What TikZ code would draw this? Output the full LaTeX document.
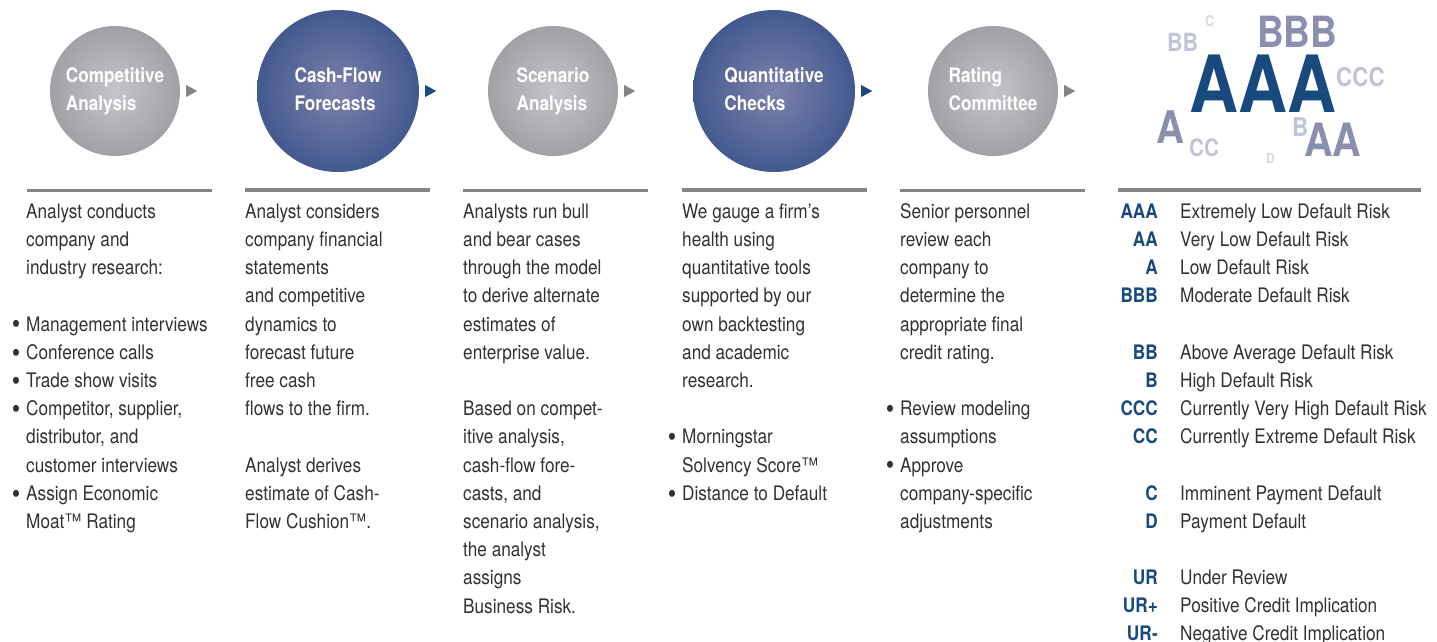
\documentclass[tikz,border=0pt]{standalone}
\usepackage{fontspec}
\setmainfont{TeX Gyre Heros}[FakeStretch=0.86]
\usetikzlibrary{calc}
\definecolor{txt}{RGB}{50,50,50}
\definecolor{rulecol}{RGB}{133,133,135}
\definecolor{mblue}{RGB}{24,74,126}
\definecolor{cmed}{RGB}{138,143,176}
\definecolor{clight}{RGB}{192,196,216}
\definecolor{cpale}{RGB}{214,217,229}
\pgfdeclareradialshading{grayballsh}{\pgfpoint{0bp}{0bp}}{rgb(0bp)=(0.77,0.77,0.79); rgb(25bp)=(0.63,0.63,0.65); rgb(50bp)=(0.47,0.47,0.49)}
\pgfdeclareradialshading{blueballsh}{\pgfpoint{0bp}{0bp}}{rgb(0bp)=(0.49,0.51,0.67); rgb(25bp)=(0.26,0.35,0.56); rgb(50bp)=(0.10,0.29,0.51)}
\newcommand\bul{\llap{\raisebox{-2.8pt}{\scalebox{1.4}{\textbullet}}\hspace{6pt}}}
\tikzset{
  ball/.style={circle, inner sep=0pt, draw=none},
  grayball/.style={ball, shading=grayballsh, minimum size=130pt},
  blueball/.style={ball, shading=blueballsh, minimum size=162pt},
  balltext/.style={align=left, text=white, inner sep=0pt, font=\bfseries\fontsize{20}{28}\selectfont},
  body/.style={align=left, text=txt, inner sep=0pt, anchor=north west, font=\fontsize{20}{28.2}\selectfont},
  code/.style={anchor=base east, inner sep=0pt, text=mblue, font=\bfseries\fontsize{20}{24}\selectfont},
  desc/.style={anchor=base west, inner sep=0pt, text=txt, font=\fontsize{20}{24}\selectfont},
  cloud/.style={anchor=base west, inner sep=0pt, font=\bfseries},
  thinrule/.style={draw=rulecol, line width=2.5pt},
  thickrule/.style={draw=rulecol, line width=4pt},
}
\begin{document}
\begin{tikzpicture}[x=1pt,y=-1pt]
\useasboundingbox (0,0) rectangle (1437,642);

% circles
\node[grayball] (c1) at (115,91) {};
\node[blueball] (c2) at (338,91) {};
\node[grayball] (c3) at (553,91) {};
\node[blueball] (c4) at (774,91) {};
\node[grayball] (c5) at (993,91) {};

\node[balltext] (t1) at (c1.center) {\strut Competitive\\\strut Analysis};
\node[balltext] (t2) at (c2.center) {\strut Cash-Flow\\\strut Forecasts};
\node[balltext] (t3) at (c3.center) {\strut Scenario\\\strut Analysis};
\node[balltext] (t4) at (c4.center) {\strut Quantitative\\\strut Checks};
\node[balltext] (t5) at (c5.center) {\strut Rating\\\strut Committee};

% arrow triangles
\fill[rulecol] ($(c1.east)+(6,-6)$) -- ++(11,6) -- ++(-11,6) -- cycle;
\fill[mblue]   ($(c2.east)+(6,-6)$) -- ++(11,6) -- ++(-11,6) -- cycle;
\fill[rulecol] ($(c3.east)+(6,-6)$) -- ++(11,6) -- ++(-11,6) -- cycle;
\fill[mblue]   ($(c4.east)+(6,-6)$) -- ++(11,6) -- ++(-11,6) -- cycle;
\fill[rulecol] ($(c5.east)+(6,-6)$) -- ++(11,6) -- ++(-11,6) -- cycle;

% rules
\draw[thinrule] (27,190.5) -- (212,190.5);
\draw[thickrule] (245,189.5) -- (430,189.5);
\draw[thinrule] (463,190.5) -- (648,190.5);
\draw[thickrule] (682,189.5) -- (867,189.5);
\draw[thinrule] (900,190.5) -- (1085,190.5);
\draw[thickrule] (1118,189.5) -- (1421,189.5);

% body columns
\node[body] (b1) at (26,198.3) {\strut Analyst conducts\\\strut company and\\\strut industry research:\\\strut\\
\strut\bul Management interviews\\\strut\bul Conference calls\\\strut\bul Trade show visits\\
\strut\bul Competitor, supplier,\\\strut distributor, and\\\strut customer interviews\\
\strut\bul Assign Economic\\\strut Moat™ Rating};

\node[body] (b2) at (245,198.3) {\strut Analyst considers\\\strut company financial\\\strut statements\\\strut and competitive\\
\strut dynamics to\\\strut forecast future\\\strut free cash\\\strut flows to the firm.\\\strut\\
\strut Analyst derives\\\strut estimate of Cash-\\\strut Flow Cushion™.};

\node[body] (b3) at (463,198.3) {\strut Analysts run bull\\\strut and bear cases\\\strut through the model\\\strut to derive alternate\\
\strut estimates of\\\strut enterprise value.\\\strut\\
\strut Based on compet-\\\strut itive analysis,\\\strut cash-flow fore-\\\strut casts, and\\\strut scenario analysis,\\
\strut the analyst\\\strut assigns\\\strut Business Risk.};

\node[body] (b4) at (682,198.3) {\strut We gauge a firm’s\\\strut health using\\\strut quantitative tools\\\strut supported by our\\
\strut own backtesting\\\strut and academic\\\strut research.\\\strut\\
\strut\bul Morningstar\\\strut Solvency Score™\\\strut\bul Distance to Default};

\node[body] (b5) at (900,198.3) {\strut Senior personnel\\\strut review each\\\strut company to\\\strut determine the\\
\strut appropriate final\\\strut credit rating.\\\strut\\
\strut\bul Review modeling\\\strut assumptions\\\strut\bul Approve\\\strut company-specific\\\strut adjustments};

% rating legend
\foreach \yy/\cc/\dd [count=\i] in {
  218/AAA/Extremely Low Default Risk,
  246.2/AA/Very Low Default Risk,
  274.4/A/Low Default Risk,
  302.6/BBB/Moderate Default Risk,
  359/BB/Above Average Default Risk,
  387.2/B/High Default Risk,
  415.4/CCC/Currently Very High Default Risk,
  443.6/CC/Currently Extreme Default Risk,
  500/C/Imminent Payment Default,
  528.2/D/Payment Default,
  584.6/UR/Under Review,
  612.8/UR+/Positive Credit Implication,
  640.5/UR-/Negative Credit Implication}{
  \node[code] (rc\i) at (1158,\yy) {\cc};
  \node[desc] (rd\i) at (1180,\yy) {\dd};
}

% letter cloud
\node[cloud, text=cpale, font=\bfseries\fontsize{15}{15}\selectfont] (lC) at (1205,27) {C};
\node[cloud, text=clight, font=\bfseries\fontsize{25}{25}\selectfont] (lBB) at (1167,52) {BB};
\node[cloud, text=cmed, font=\bfseries\fontsize{43}{43}\selectfont] (lBBB) at (1257,48) {BBB};
\node[cloud, text=mblue, font=\bfseries\fontsize{79}{79}\selectfont] (lAAA) at (1189,112) {AAA};
\node[cloud, text=clight, font=\bfseries\fontsize{26}{26}\selectfont] (lCCC) at (1336,86) {CCC};
\node[cloud, text=cmed, font=\bfseries\fontsize{45}{45}\selectfont] (lA) at (1156,143) {A};
\node[cloud, text=clight, font=\bfseries\fontsize{24}{24}\selectfont] (lCC) at (1189,156) {CC};
\node[cloud, text=clight, font=\bfseries\fontsize{26}{26}\selectfont] (lB) at (1292,136) {B};
\node[cloud, text=cmed, font=\bfseries\fontsize{46}{46}\selectfont] (lAA) at (1304,156) {AA};
\node[cloud, text=cpale, font=\bfseries\fontsize{14}{14}\selectfont] (lD) at (1266,163) {D};
\end{tikzpicture}
\end{document}
